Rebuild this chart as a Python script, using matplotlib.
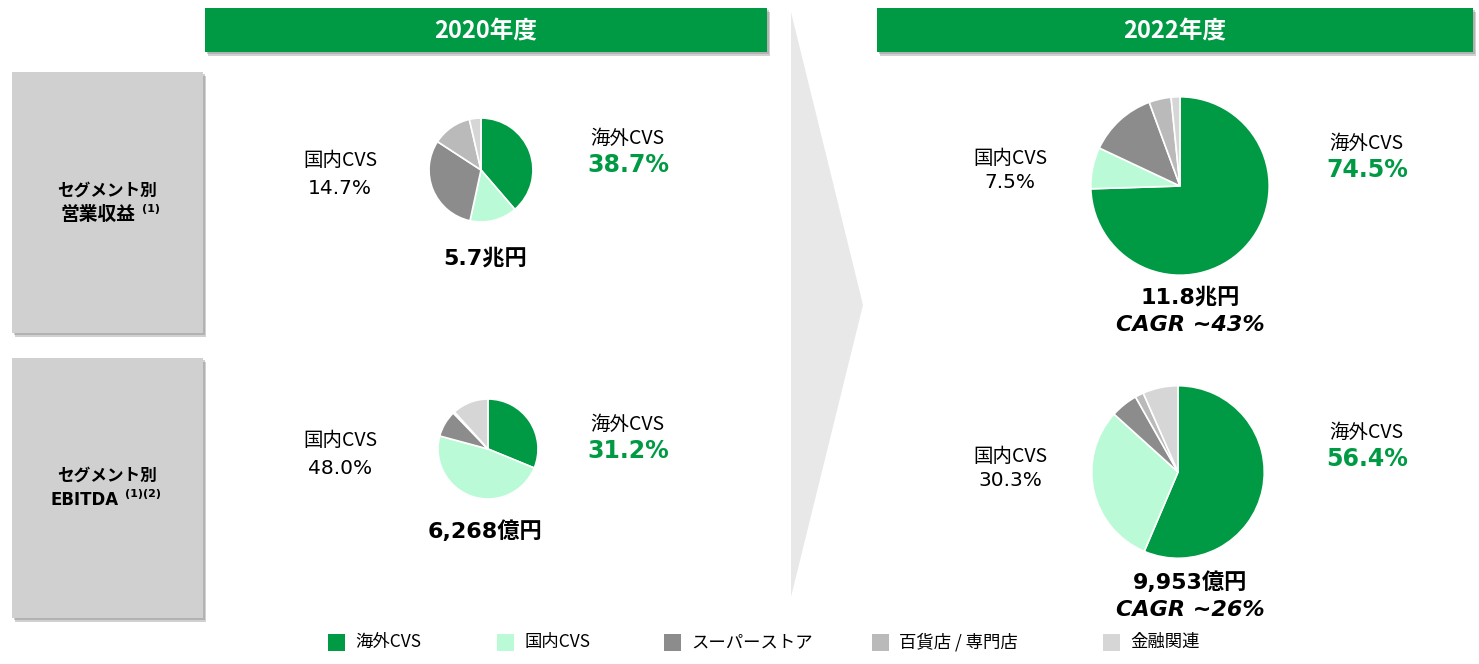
import matplotlib
matplotlib.use("Agg")
import matplotlib.pyplot as plt
from matplotlib.patches import Rectangle, Polygon

plt.rcParams['font.family'] = ['Noto Sans CJK JP', 'DejaVu Sans']

W, H = 1479, 664

# segment data (share of total, %)
segments = ['海外CVS', '国内CVS', 'スーパーストア', '百貨店 / 専門店', '金融関連']
colors = ['#009a44', '#bbfad6', '#8c8c8c', '#bababa', '#d6d6d6']

years = ['2020年度', '2022年度']
rows = ['セグメント別\n営業収益', 'セグメント別\nEBITDA']
row_notes = ['(1)', '(1)(2)']

rev_2020 = [38.7, 14.7, 30.8, 12.2, 3.6]
ebitda_2020 = [31.2, 48.0, 8.6, 0.5, 11.7]
rev_2022 = [74.5, 7.5, 12.4, 4.0, 1.6]
ebitda_2022 = [56.4, 30.3, 5.1, 1.6, 6.6]

totals = ['5.7兆円', '6,268億円', '11.8兆円', '9,953億円']
cagr = [None, None, 'CAGR ~43%', 'CAGR ~26%']

fig = plt.figure(figsize=(W / 100, H / 100), dpi=100)
ax = fig.add_axes([0, 0, 1, 1])
ax.set_xlim(0, W)
ax.set_ylim(H, 0)
ax.axis('off')

latin = ['DejaVu Sans', 'Noto Sans CJK JP']


def box(x0, y0, x1, y1, color, shadow=True):
    if shadow:
        ax.add_patch(Rectangle((x0 + 3, y0 + 4), x1 - x0, y1 - y0, color='#9a9a9a', alpha=0.45, lw=0))
        ax.add_patch(Rectangle((x0 + 1.5, y0 + 2), x1 - x0, y1 - y0, color='#7a7a7a', alpha=0.35, lw=0))
    ax.add_patch(Rectangle((x0, y0), x1 - x0, y1 - y0, color=color, lw=0))


# arrow in the middle
ax.add_patch(Polygon([(791, 12), (863, 305), (791, 597)], closed=True, color='#e8e8e8', lw=0))

# year headers
box(205, 8, 767, 52, '#009a44')
box(877, 8, 1473, 52, '#009a44')
ax.text(486, 31, years[0], color='white', fontsize=17, fontweight='bold', ha='center', va='center')
ax.text(1175, 31, years[1], color='white', fontsize=17, fontweight='bold', ha='center', va='center')

# row labels: (top, bottom, right edge of 2nd line, font size of 2nd line)
row_boxes = [(72, 333, 136, 13.5), (358, 618, 119, 12)]
for (y0, y1, x2, fs2), lab, note in zip(row_boxes, rows, row_notes):
    box(12, y0, 203, y1, '#d0d0d0')
    cy = (y0 + y1) / 2
    l1, l2 = lab.split('\n')
    ax.text(107, cy - 12, l1, fontsize=12, fontweight='bold', ha='center', va='center')
    ax.text(x2, cy + 12, l2, fontsize=fs2, fontweight='bold', ha='right', va='center', family=latin)
    ax.text(x2 + 6, cy + 6, note, fontsize=8, fontweight='bold', ha='left', va='center', family=latin)


def pie_at(cx, cy, r, vals):
    pa = fig.add_axes([(cx - r) / W, 1 - (cy + r) / H, 2 * r / W, 2 * r / H])
    pa.pie(vals, colors=colors, startangle=90, counterclock=False, radius=1,
           wedgeprops=dict(edgecolor='white', linewidth=1.2))
    pa.set_xlim(-1.02, 1.02)
    pa.set_ylim(-1.02, 1.02)
    pa.set_aspect('equal')
    pa.axis('off')


pies = [
    (481, 170, 53, rev_2020, 340, 627, 160, 138, 485, 258),
    (488, 449, 51, ebitda_2020, 340, 627, 441, 424, 485, 531),
    (1180, 186, 91, rev_2022, 1010, 1366, 158, 143, 1190, 297),
    (1178, 472, 88, ebitda_2022, 1010, 1366, 456, 432, 1190, 582),
]

for i, (cx, cy, r, vals, lx, rx, ly, ry, tx, ty) in enumerate(pies):
    pie_at(cx, cy, r, vals)
    ax.text(lx, ly, segments[1], fontsize=14, ha='center', va='center')
    ax.text(lx, ly + 28 if i < 2 else ly + 25, f'{vals[1]:.1f}%', fontsize=14.5, ha='center',
            va='center', family=latin)
    ax.text(rx, ry, segments[0], fontsize=14, ha='center', va='center')
    ax.text(rx + 1, ry + 27, f'{vals[0]:.1f}%', fontsize=17, fontweight='bold', color='#009a44',
            ha='center', va='center', family=latin)
    ax.text(tx, ty, totals[i], fontsize=16, fontweight='bold', ha='center', va='center', family=latin)
    if cagr[i]:
        ax.text(tx, ty + 28, cagr[i], fontsize=16, fontweight='bold', style='italic',
                ha='center', va='center', family=['DejaVu Sans'])

# legend
leg_x = [328, 497, 664, 872, 1103]
for x, c, s in zip(leg_x, colors, segments):
    ax.add_patch(Rectangle((x, 634), 17, 17, color=c, lw=0))
    ax.text(x + 27, 642, s, fontsize=12.5, ha='left', va='center')

fig.savefig('out.png', dpi=100)
